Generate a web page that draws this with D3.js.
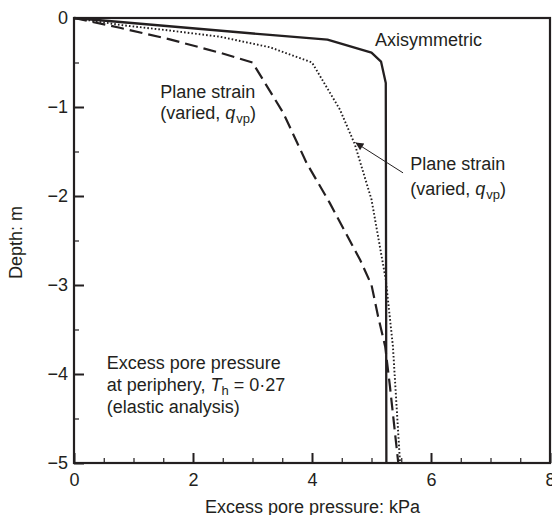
<!DOCTYPE html>
<html><head><meta charset="utf-8">
<script src="https://cdn.jsdelivr.net/npm/d3@7"></script>
<style>
html,body{margin:0;padding:0;background:#fff;}
text{font-family:"Liberation Sans",Arial,sans-serif;fill:#231f20;}
</style></head>
<body>
<svg id="chart" width="552" height="515"></svg>
<script>
// ---- data ----
const axiPressure = [0, 3.29, 4.26, 5.0, 5.16, 5.24, 5.25];
const axiDepth    = [0, -0.19, -0.244, -0.39, -0.49, -0.73, -5];

const psDotPressure = [0, 0.8, 1.6, 2.45, 3.3, 4.0, 4.47, 4.72, 5.0, 5.24, 5.36, 5.48];
const psDotDepth    = [0, -0.08, -0.14, -0.21, -0.33, -0.5, -1.03, -1.42, -2.04, -2.94, -3.69, -5];

const psDashPressure = [0, 0.77, 1.61, 2.45, 3.0, 3.52, 3.91, 4.3, 4.81, 5.0, 5.11, 5.23, 5.31, 5.45];
const psDashDepth    = [0, -0.11, -0.24, -0.39, -0.5, -1.07, -1.63, -2.08, -2.72, -3.0, -3.35, -3.69, -4.14, -5];

const xMajorTicks = [0, 2, 4, 6, 8];
const xMinorTicks = [0.5, 1, 1.5, 2.5, 3, 3.5, 4.5, 5, 5.5, 6.5, 7, 7.5];
const yMajorTicks = [0, -1, -2, -3, -4, -5];
const yMinorTicks = [-0.5, -1.5, -2.5, -3.5, -4.5];

const xTitle = "Excess pore pressure: kPa";
const yTitle = "Depth: m";

// ---- layout ----
const svg = d3.select("#chart");
const pL = 74, pR = 550, pT = 18, pB = 463;
const x = d3.scaleLinear().domain([0, 8]).range([pL, pR]);
const y = d3.scaleLinear().domain([0, -5]).range([pT, pB]);
const ink = "#231f20";
const fmt = d => d < 0 ? "\u2212" + Math.abs(d) : String(d);

// minor ticks
svg.append("g").attr("transform", `translate(0,${pB})`)
  .call(d3.axisBottom(x).tickValues(xMinorTicks).tickSize(-5).tickFormat(""))
  .call(g => g.select(".domain").remove())
  .call(g => g.selectAll("line").attr("stroke", ink).attr("stroke-width", 1.2));
svg.append("g").attr("transform", `translate(${pL},0)`)
  .call(d3.axisLeft(y).tickValues(yMinorTicks).tickSize(-5).tickFormat(""))
  .call(g => g.select(".domain").remove())
  .call(g => g.selectAll("line").attr("stroke", ink).attr("stroke-width", 1.2));

// major ticks + labels
svg.append("g").attr("transform", `translate(0,${pB})`)
  .call(d3.axisBottom(x).tickValues(xMajorTicks).tickSize(-10).tickPadding(10).tickFormat(fmt))
  .call(g => g.select(".domain").remove())
  .call(g => g.selectAll("line").attr("stroke", ink).attr("stroke-width", 2))
  .call(g => g.selectAll("text").attr("font-size", 18).attr("fill", ink).attr("font-family", "Liberation Sans, Arial, sans-serif"));
svg.append("g").attr("transform", `translate(${pL},0)`)
  .call(d3.axisLeft(y).tickValues(yMajorTicks).tickSize(-10).tickPadding(6).tickFormat(fmt))
  .call(g => g.select(".domain").remove())
  .call(g => g.selectAll("line").attr("stroke", ink).attr("stroke-width", 2))
  .call(g => g.selectAll("text").attr("font-size", 18).attr("fill", ink).attr("font-family", "Liberation Sans, Arial, sans-serif"));

// frame
svg.append("rect").attr("x", pL).attr("y", pT)
  .attr("width", pR - pL).attr("height", pB - pT)
  .attr("fill", "none").attr("stroke", ink).attr("stroke-width", 2.2);

// lines
const line = d3.line().x(d => x(d[0])).y(d => y(d[1]));
const zip = (a, b) => a.map((v, i) => [v, b[i]]);

svg.append("path").datum(zip(axiPressure, axiDepth)).attr("d", line)
  .attr("fill", "none").attr("stroke", ink).attr("stroke-width", 2.3).attr("stroke-linejoin", "round");
svg.append("path").datum(zip(psDotPressure, psDotDepth)).attr("d", line)
  .attr("fill", "none").attr("stroke", ink).attr("stroke-width", 1.9).attr("stroke-dasharray", "1.6,2.1");
svg.append("path").datum(zip(psDashPressure, psDashDepth)).attr("d", line)
  .attr("fill", "none").attr("stroke", ink).attr("stroke-width", 2.2).attr("stroke-dasharray", "13,6");

// arrow
svg.append("defs").append("marker").attr("id", "ah")
  .attr("viewBox", "0 0 10 10").attr("refX", 10).attr("refY", 5)
  .attr("markerWidth", 10).attr("markerHeight", 8).attr("markerUnits", "userSpaceOnUse")
  .attr("orient", "auto")
  .append("path").attr("d", "M0,0 L10,5 L0,10 Z").attr("fill", ink);
svg.append("line")
  .attr("x1", x(5.53)).attr("y1", y(-1.74)).attr("x2", x(4.73)).attr("y2", y(-1.40))
  .attr("stroke", ink).attr("stroke-width", 1).attr("marker-end", "url(#ah)");

// annotations
function addText(xv, yv, parts) {
  const t = svg.append("text").attr("x", x(xv)).attr("y", y(yv)).attr("font-size", 18);
  parts.forEach(p => {
    const s = t.append("tspan").text(p.t);
    if (p.it) s.attr("font-style", "italic");
    if (p.sub) s.attr("font-size", 13).attr("dy", 4);
    if (p.up) s.attr("dy", -4);
    if (p.dx) s.attr("dx", p.dx);
  });
}
addText(5.06, -0.32, [{t: "Axisymmetric"}]);
addText(1.45, -0.895, [{t: "Plane strain"}]);
addText(1.45, -1.14, [{t: "(varied, "}, {t: "q", it: true}, {t: "vp", sub: true, dx: 1}, {t: ")", up: true}]);
addText(5.65, -1.705, [{t: "Plane strain"}]);
addText(5.65, -1.985, [{t: "(varied, "}, {t: "q", it: true}, {t: "vp", sub: true, dx: 1}, {t: ")", up: true}]);
addText(0.55, -3.94, [{t: "Excess pore pressure"}]);
addText(0.55, -4.19, [{t: "at periphery, "}, {t: "T", it: true}, {t: "h", sub: true}, {t: " = 0\u00b727", up: true}]);
addText(0.55, -4.44, [{t: "(elastic analysis)"}]);

// axis titles
svg.append("text").attr("x", (pL + pR) / 2 + 0.5).attr("y", 513)
  .attr("text-anchor", "middle").attr("font-size", 18).text(xTitle);
svg.append("text").attr("transform", `translate(22,${(pT + pB) / 2 + 2}) rotate(-90)`)
  .attr("text-anchor", "middle").attr("font-size", 18).text(yTitle);
</script>
</body></html>
